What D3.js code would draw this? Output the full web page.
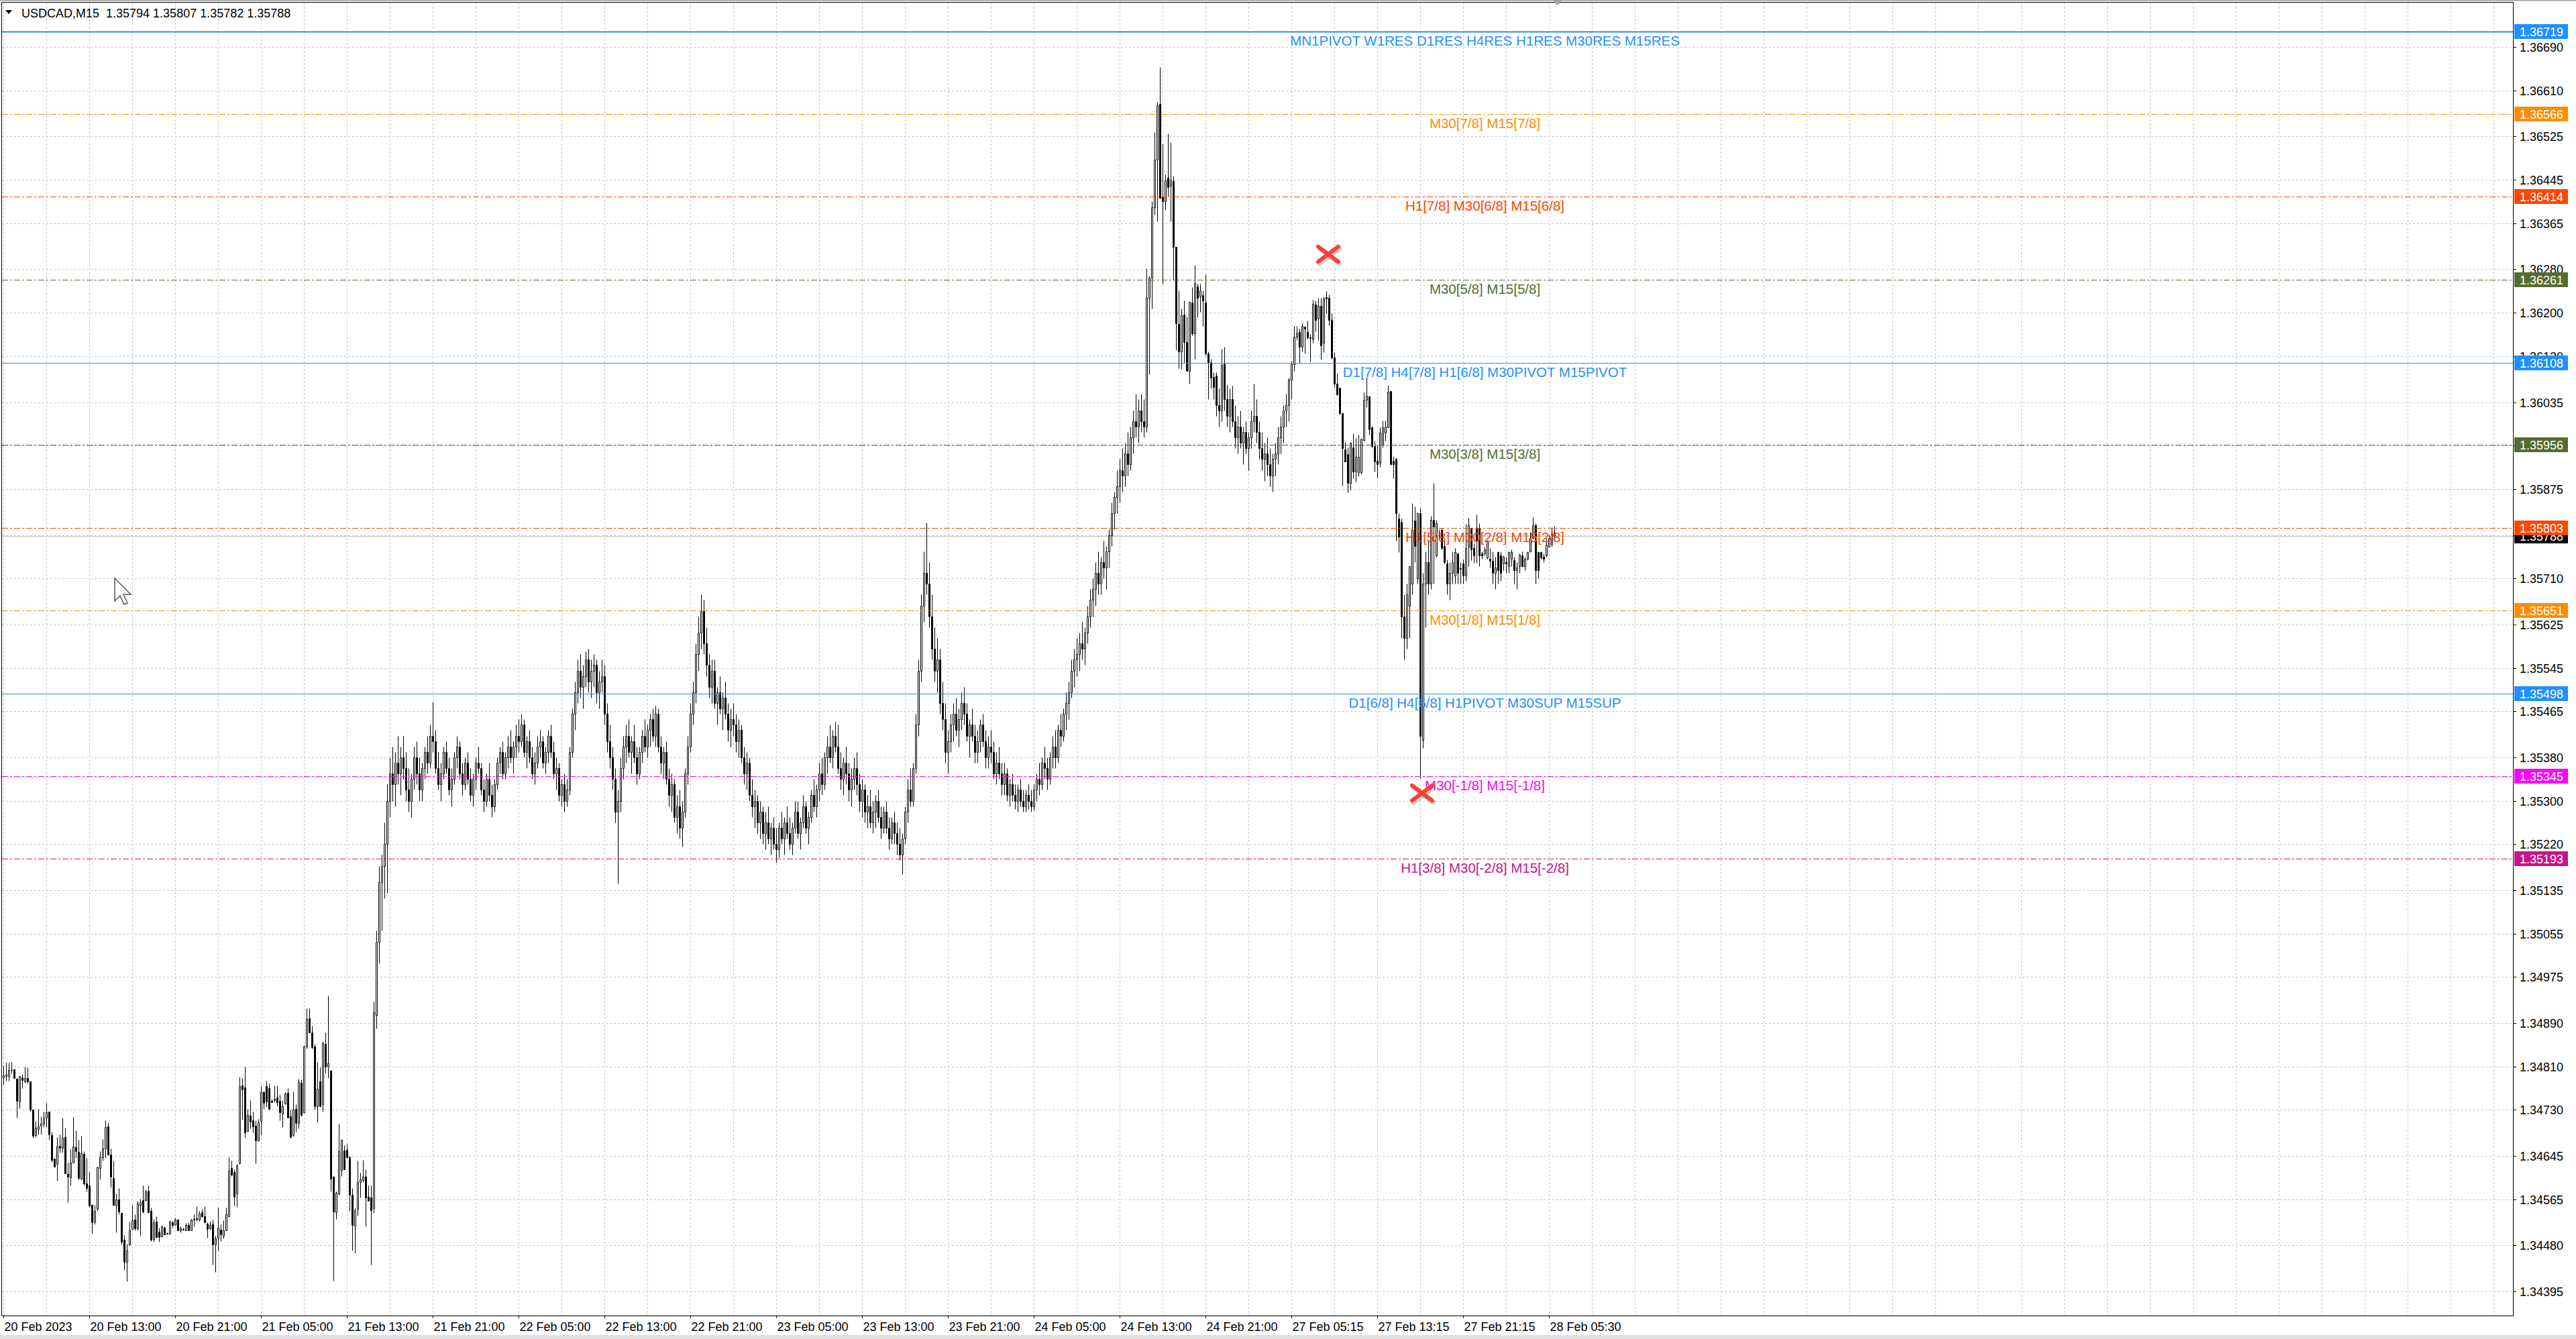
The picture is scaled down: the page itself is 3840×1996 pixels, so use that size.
<!DOCTYPE html>
<html><head><meta charset="utf-8">
<script src="https://cdn.jsdelivr.net/npm/d3@7"></script>
<style>html,body{margin:0;padding:0;background:#fff;}svg{display:block;}</style>
</head><body>
<svg id="c" width="3840" height="1996"></svg>
<script>
// ---------------- DATA ----------------
const symbolName = "USDCAD,M15";
const lastQuote = [1.35794, 1.35807, 1.35782, 1.35788];
const bidPrice = 1.35788;

// M15 candles, [open, high, low, close], one array per trading day
const feb20 = [
[1.34790,1.34812,1.34776,1.34793],[1.34792,1.34817,1.34783,1.34794],[1.34792,1.34817,1.34783,1.34803],[1.34803,1.34818,1.34797,1.34803],
[1.34804,1.34806,1.34788,1.34788],[1.34787,1.34788,1.34715,1.34746],[1.34745,1.34792,1.34733,1.34792],[1.34790,1.34796,1.34770,1.34785],
[1.34782,1.34809,1.34780,1.34789],[1.34788,1.34808,1.34779,1.34782],[1.34782,1.34782,1.34727,1.34730],[1.34730,1.34730,1.34678,1.34682],
[1.34683,1.34709,1.34679,1.34697],[1.34694,1.34731,1.34685,1.34699],[1.34701,1.34718,1.34684,1.34704],[1.34704,1.34727,1.34698,1.34716],
[1.34716,1.34742,1.34698,1.34725],[1.34726,1.34726,1.34674,1.34684],[1.34683,1.34689,1.34634,1.34638],[1.34640,1.34640,1.34624,1.34625],
[1.34630,1.34679,1.34599,1.34662],[1.34663,1.34685,1.34651,1.34660],[1.34660,1.34716,1.34651,1.34678],[1.34679,1.34697,1.34612,1.34613],
[1.34612,1.34632,1.34559,1.34606],[1.34605,1.34657,1.34591,1.34632],[1.34633,1.34717,1.34631,1.34662],[1.34661,1.34692,1.34641,1.34653],
[1.34652,1.34674,1.34601,1.34604],[1.34603,1.34682,1.34601,1.34650],[1.34648,1.34653,1.34591,1.34594],[1.34594,1.34641,1.34579,1.34585],
[1.34591,1.34615,1.34551,1.34553],[1.34554,1.34556,1.34501,1.34522],[1.34523,1.34554,1.34519,1.34544],[1.34547,1.34625,1.34544,1.34624],
[1.34623,1.34654,1.34602,1.34642],[1.34643,1.34676,1.34636,1.34658],[1.34658,1.34711,1.34641,1.34698],[1.34699,1.34707,1.34646,1.34647],
[1.34647,1.34658,1.34587,1.34606],[1.34604,1.34636,1.34553,1.34554],[1.34553,1.34576,1.34504,1.34564],[1.34564,1.34585,1.34537,1.34542],
[1.34540,1.34540,1.34481,1.34487],[1.34490,1.34499,1.34434,1.34449],[1.34449,1.34483,1.34414,1.34471],[1.34481,1.34524,1.34479,1.34508],
[1.34510,1.34555,1.34509,1.34526],[1.34527,1.34537,1.34507,1.34511],[1.34511,1.34562,1.34507,1.34557],[1.34553,1.34566,1.34498,1.34560],
[1.34563,1.34591,1.34540,1.34542],[1.34563,1.34583,1.34562,1.34579],[1.34581,1.34591,1.34540,1.34541],[1.34544,1.34550,1.34488,1.34490],
[1.34492,1.34529,1.34486,1.34522],[1.34523,1.34533,1.34494,1.34495],[1.34505,1.34513,1.34486,1.34495],[1.34496,1.34516,1.34495,1.34515],
[1.34513,1.34515,1.34500,1.34500],[1.34502,1.34504,1.34500,1.34501],[1.34501,1.34526,1.34500,1.34524],[1.34522,1.34525,1.34513,1.34518],
[1.34518,1.34531,1.34517,1.34527],[1.34527,1.34529,1.34507,1.34507],[1.34507,1.34515,1.34504,1.34511],[1.34509,1.34513,1.34507,1.34510],
[1.34507,1.34521,1.34507,1.34518],[1.34518,1.34522,1.34507,1.34507],[1.34507,1.34529,1.34507,1.34527],[1.34527,1.34537,1.34515,1.34529],
[1.34527,1.34552,1.34525,1.34530],[1.34527,1.34544,1.34525,1.34538],[1.34541,1.34547,1.34531,1.34533],[1.34533,1.34552,1.34521,1.34522]];
const feb21 = [
[1.34520,1.34522,1.34494,1.34510],[1.34511,1.34525,1.34509,1.34518],[1.34519,1.34527,1.34445,1.34482],[1.34482,1.34498,1.34431,1.34493],
[1.34494,1.34549,1.34470,1.34513],[1.34509,1.34519,1.34488,1.34500],[1.34498,1.34526,1.34493,1.34507],[1.34507,1.34549,1.34507,1.34537],
[1.34533,1.34643,1.34533,1.34618],[1.34623,1.34636,1.34608,1.34610],[1.34615,1.34620,1.34553,1.34569],[1.34575,1.34630,1.34551,1.34628],
[1.34631,1.34791,1.34630,1.34774],[1.34775,1.34788,1.34712,1.34767],[1.34771,1.34809,1.34678,1.34688],[1.34691,1.34731,1.34690,1.34720],
[1.34719,1.34747,1.34696,1.34708],[1.34711,1.34727,1.34688,1.34699],[1.34701,1.34711,1.34631,1.34673],[1.34673,1.34713,1.34672,1.34707],
[1.34709,1.34773,1.34683,1.34762],[1.34763,1.34765,1.34731,1.34743],[1.34773,1.34784,1.34735,1.34745],[1.34770,1.34779,1.34730,1.34731],
[1.34746,1.34750,1.34744,1.34744],[1.34747,1.34775,1.34744,1.34750],[1.34752,1.34775,1.34736,1.34744],[1.34746,1.34758,1.34711,1.34725],
[1.34723,1.34748,1.34698,1.34737],[1.34741,1.34763,1.34740,1.34760],[1.34761,1.34770,1.34715,1.34716],[1.34718,1.34730,1.34678,1.34679],
[1.34683,1.34764,1.34681,1.34730],[1.34731,1.34740,1.34690,1.34706],[1.34706,1.34787,1.34696,1.34781],[1.34780,1.34786,1.34718,1.34720],
[1.34725,1.34849,1.34724,1.34846],[1.34846,1.34917,1.34843,1.34897],[1.34898,1.34917,1.34872,1.34872],[1.34872,1.34885,1.34843,1.34845],
[1.34846,1.34851,1.34730,1.34736],[1.34736,1.34818,1.34707,1.34768],[1.34782,1.34808,1.34735,1.34736],[1.34740,1.34856,1.34726,1.34853],
[1.34851,1.34872,1.34797,1.34810],[1.34810,1.34940,1.34788,1.34815],[1.34802,1.34803,1.34579,1.34603],[1.34606,1.34608,1.34415,1.34542],
[1.34541,1.34579,1.34529,1.34577],[1.34575,1.34704,1.34573,1.34653],[1.34619,1.34674,1.34608,1.34674],[1.34655,1.34665,1.34620,1.34620],
[1.34656,1.34667,1.34641,1.34642],[1.34643,1.34645,1.34544,1.34573],[1.34573,1.34586,1.34471,1.34518],[1.34516,1.34550,1.34465,1.34545],
[1.34547,1.34636,1.34535,1.34597],[1.34597,1.34614,1.34568,1.34601],[1.34600,1.34637,1.34597,1.34607],[1.34607,1.34620,1.34515,1.34568],
[1.34569,1.34591,1.34562,1.34562],[1.34568,1.34591,1.34445,1.34545],[1.34548,1.34930,1.34540,1.34910],[1.34905,1.35060,1.34880,1.35040],
[1.35040,1.35180,1.35000,1.35150],[1.35150,1.35200,1.35060,1.35180],[1.35180,1.35260,1.35120,1.35220],[1.35220,1.35330,1.35130,1.35300],
[1.35300,1.35380,1.35270,1.35350],[1.35350,1.35400,1.35300,1.35330],[1.35330,1.35390,1.35290,1.35370],[1.35370,1.35420,1.35330,1.35350],
[1.35350,1.35400,1.35310,1.35380],[1.35380,1.35420,1.35340,1.35360],[1.35360,1.35390,1.35300,1.35320],[1.35320,1.35360,1.35280,1.35300],
[1.35300,1.35350,1.35270,1.35340],[1.35340,1.35400,1.35320,1.35380],[1.35380,1.35410,1.35330,1.35350],[1.35350,1.35380,1.35300,1.35320],
[1.35320,1.35370,1.35300,1.35360],[1.35360,1.35400,1.35340,1.35390],[1.35390,1.35420,1.35350,1.35370],[1.35370,1.35440,1.35360,1.35420],
[1.35420,1.35483,1.35390,1.35410],[1.35410,1.35430,1.35350,1.35360],[1.35360,1.35390,1.35320,1.35330],[1.35330,1.35370,1.35300,1.35350],
[1.35350,1.35400,1.35340,1.35390],[1.35390,1.35410,1.35350,1.35360],[1.35360,1.35380,1.35310,1.35320],[1.35320,1.35360,1.35290,1.35340],
[1.35340,1.35390,1.35330,1.35380],[1.35380,1.35420,1.35360,1.35400],[1.35400,1.35410,1.35340,1.35350],[1.35350,1.35370,1.35310,1.35330]];
const feb22 = [
[1.35330,1.35380,1.35320,1.35370],[1.35370,1.35390,1.35330,1.35340],[1.35340,1.35360,1.35300,1.35310],[1.35310,1.35350,1.35290,1.35340],
[1.35340,1.35380,1.35320,1.35370],[1.35370,1.35400,1.35350,1.35360],[1.35360,1.35370,1.35310,1.35320],[1.35320,1.35340,1.35280,1.35300],
[1.35300,1.35350,1.35290,1.35340],[1.35340,1.35370,1.35300,1.35310],[1.35310,1.35330,1.35270,1.35290],[1.35290,1.35340,1.35280,1.35330],
[1.35330,1.35380,1.35320,1.35370],[1.35370,1.35400,1.35350,1.35390],[1.35390,1.35410,1.35340,1.35350],[1.35350,1.35390,1.35340,1.35380],
[1.35380,1.35420,1.35360,1.35400],[1.35400,1.35430,1.35370,1.35380],[1.35380,1.35410,1.35350,1.35400],[1.35400,1.35440,1.35380,1.35420],
[1.35420,1.35450,1.35390,1.35410],[1.35410,1.35460,1.35400,1.35440],[1.35440,1.35450,1.35380,1.35390],[1.35390,1.35420,1.35360,1.35410],
[1.35410,1.35430,1.35370,1.35380],[1.35380,1.35400,1.35340,1.35350],[1.35350,1.35390,1.35330,1.35370],[1.35370,1.35420,1.35360,1.35400],
[1.35400,1.35430,1.35380,1.35410],[1.35410,1.35420,1.35360,1.35370],[1.35370,1.35400,1.35350,1.35390],[1.35390,1.35430,1.35370,1.35420],
[1.35420,1.35440,1.35380,1.35390],[1.35390,1.35410,1.35340,1.35350],[1.35350,1.35380,1.35320,1.35360],[1.35360,1.35370,1.35300,1.35310],
[1.35310,1.35340,1.35290,1.35330],[1.35330,1.35350,1.35280,1.35300],[1.35300,1.35340,1.35290,1.35320],[1.35320,1.35400,1.35310,1.35390],
[1.35390,1.35470,1.35380,1.35460],[1.35460,1.35520,1.35430,1.35500],[1.35500,1.35560,1.35480,1.35540],[1.35540,1.35570,1.35490,1.35510],
[1.35510,1.35550,1.35470,1.35530],[1.35530,1.35575,1.35510,1.35560],[1.35560,1.35580,1.35500,1.35520],[1.35520,1.35560,1.35490,1.35540],
[1.35540,1.35570,1.35510,1.35550],[1.35550,1.35560,1.35480,1.35500],[1.35500,1.35540,1.35470,1.35520],[1.35520,1.35560,1.35500,1.35530],
[1.35530,1.35550,1.35440,1.35460],[1.35460,1.35480,1.35390,1.35410],[1.35410,1.35440,1.35360,1.35380],[1.35380,1.35400,1.35320,1.35340],
[1.35340,1.35360,1.35260,1.35280],[1.35280,1.35320,1.35147,1.35300],[1.35300,1.35380,1.35280,1.35360],[1.35360,1.35420,1.35340,1.35400],
[1.35400,1.35440,1.35370,1.35420],[1.35420,1.35450,1.35380,1.35390],[1.35390,1.35420,1.35350,1.35410],[1.35410,1.35440,1.35370,1.35380],
[1.35380,1.35400,1.35330,1.35350],[1.35350,1.35400,1.35340,1.35390],[1.35390,1.35430,1.35370,1.35420],[1.35420,1.35450,1.35390,1.35400],
[1.35400,1.35440,1.35380,1.35430],[1.35430,1.35460,1.35400,1.35450],[1.35450,1.35470,1.35410,1.35420],[1.35420,1.35475,1.35400,1.35460],
[1.35460,1.35470,1.35390,1.35400],[1.35400,1.35420,1.35350,1.35370],[1.35370,1.35400,1.35340,1.35390],[1.35390,1.35410,1.35330,1.35340],
[1.35340,1.35360,1.35290,1.35310],[1.35310,1.35350,1.35280,1.35330],[1.35330,1.35340,1.35260,1.35270],[1.35270,1.35310,1.35240,1.35290],
[1.35290,1.35320,1.35230,1.35250],[1.35250,1.35300,1.35215,1.35280],[1.35280,1.35360,1.35270,1.35350],[1.35350,1.35420,1.35330,1.35400],
[1.35400,1.35480,1.35390,1.35460],[1.35460,1.35520,1.35440,1.35500],[1.35500,1.35590,1.35480,1.35570],[1.35570,1.35640,1.35540,1.35610],
[1.35610,1.35680,1.35580,1.35650],[1.35650,1.35670,1.35570,1.35590],[1.35590,1.35620,1.35530,1.35550],[1.35550,1.35570,1.35490,1.35510],
[1.35510,1.35560,1.35480,1.35540],[1.35540,1.35560,1.35470,1.35480],[1.35480,1.35510,1.35440,1.35500],[1.35500,1.35530,1.35460,1.35470]];
const feb23 = [
[1.35470,1.35500,1.35430,1.35490],[1.35490,1.35520,1.35450,1.35460],[1.35460,1.35480,1.35410,1.35430],[1.35430,1.35470,1.35400,1.35450],
[1.35450,1.35480,1.35420,1.35440],[1.35440,1.35460,1.35390,1.35410],[1.35410,1.35450,1.35380,1.35430],[1.35430,1.35440,1.35370,1.35380],
[1.35380,1.35400,1.35330,1.35350],[1.35350,1.35390,1.35320,1.35370],[1.35370,1.35380,1.35300,1.35310],[1.35310,1.35340,1.35270,1.35290],
[1.35290,1.35320,1.35250,1.35300],[1.35300,1.35310,1.35240,1.35260],[1.35260,1.35300,1.35230,1.35280],[1.35280,1.35290,1.35220,1.35240],
[1.35240,1.35280,1.35210,1.35260],[1.35260,1.35290,1.35220,1.35230],[1.35230,1.35260,1.35200,1.35250],[1.35250,1.35270,1.35210,1.35220],
[1.35220,1.35250,1.35185,1.35210],[1.35210,1.35260,1.35195,1.35250],[1.35250,1.35280,1.35220,1.35230],[1.35230,1.35270,1.35200,1.35260],
[1.35260,1.35290,1.35230,1.35240],[1.35240,1.35270,1.35210,1.35220],[1.35220,1.35260,1.35200,1.35250],[1.35250,1.35300,1.35240,1.35280],
[1.35280,1.35300,1.35230,1.35240],[1.35240,1.35270,1.35210,1.35260],[1.35260,1.35310,1.35250,1.35290],[1.35290,1.35300,1.35240,1.35250],
[1.35250,1.35280,1.35220,1.35270],[1.35270,1.35320,1.35260,1.35310],[1.35310,1.35340,1.35280,1.35290],[1.35290,1.35330,1.35270,1.35320],
[1.35320,1.35370,1.35300,1.35350],[1.35350,1.35380,1.35310,1.35330],[1.35330,1.35390,1.35320,1.35380],[1.35380,1.35420,1.35350,1.35400],
[1.35400,1.35440,1.35370,1.35380],[1.35380,1.35430,1.35360,1.35420],[1.35420,1.35445,1.35390,1.35400],[1.35400,1.35440,1.35350,1.35360],
[1.35360,1.35390,1.35320,1.35340],[1.35340,1.35380,1.35310,1.35370],[1.35370,1.35400,1.35330,1.35350],[1.35350,1.35370,1.35300,1.35320],
[1.35320,1.35360,1.35290,1.35340],[1.35340,1.35380,1.35320,1.35360],[1.35360,1.35390,1.35310,1.35330],[1.35330,1.35350,1.35280,1.35300],
[1.35300,1.35340,1.35270,1.35320],[1.35320,1.35330,1.35260,1.35280],[1.35280,1.35310,1.35250,1.35290],[1.35290,1.35320,1.35250,1.35260],
[1.35260,1.35300,1.35240,1.35280],[1.35280,1.35310,1.35250,1.35300],[1.35300,1.35320,1.35260,1.35270],[1.35270,1.35290,1.35230,1.35250],
[1.35250,1.35290,1.35240,1.35280],[1.35280,1.35300,1.35240,1.35250],[1.35250,1.35270,1.35210,1.35230],[1.35230,1.35270,1.35220,1.35260],
[1.35260,1.35280,1.35220,1.35240],[1.35240,1.35260,1.35200,1.35220],[1.35220,1.35250,1.35190,1.35200],[1.35200,1.35240,1.35165,1.35230],
[1.35230,1.35290,1.35220,1.35280],[1.35280,1.35340,1.35260,1.35320],[1.35320,1.35360,1.35290,1.35300],[1.35300,1.35370,1.35290,1.35360],
[1.35360,1.35460,1.35350,1.35440],[1.35440,1.35560,1.35420,1.35540],[1.35540,1.35680,1.35520,1.35660],[1.35660,1.35760,1.35630,1.35720],
[1.35720,1.35813,1.35680,1.35700],[1.35700,1.35740,1.35620,1.35640],[1.35640,1.35680,1.35560,1.35580],[1.35580,1.35620,1.35520,1.35540],
[1.35540,1.35600,1.35500,1.35560],[1.35560,1.35580,1.35460,1.35480],[1.35480,1.35520,1.35430,1.35450],[1.35450,1.35480,1.35370,1.35390],
[1.35390,1.35430,1.35350,1.35410],[1.35410,1.35460,1.35390,1.35440],[1.35440,1.35480,1.35410,1.35460],[1.35460,1.35490,1.35420,1.35430],
[1.35430,1.35470,1.35400,1.35450],[1.35450,1.35500,1.35430,1.35480],[1.35480,1.35510,1.35440,1.35460],[1.35460,1.35480,1.35410,1.35420],
[1.35420,1.35450,1.35380,1.35440],[1.35440,1.35470,1.35410,1.35420],[1.35420,1.35440,1.35370,1.35390],[1.35390,1.35430,1.35370,1.35410]];
const feb24 = [
[1.35410,1.35450,1.35390,1.35440],[1.35440,1.35460,1.35400,1.35410],[1.35410,1.35430,1.35360,1.35380],[1.35380,1.35420,1.35360,1.35400],
[1.35400,1.35430,1.35370,1.35390],[1.35390,1.35410,1.35340,1.35350],[1.35350,1.35390,1.35330,1.35370],[1.35370,1.35400,1.35340,1.35350],
[1.35350,1.35370,1.35310,1.35330],[1.35330,1.35370,1.35310,1.35350],[1.35350,1.35360,1.35300,1.35310],[1.35310,1.35340,1.35290,1.35330],
[1.35330,1.35350,1.35300,1.35310],[1.35310,1.35330,1.35285,1.35300],[1.35300,1.35330,1.35280,1.35320],[1.35320,1.35340,1.35290,1.35300],
[1.35300,1.35320,1.35280,1.35290],[1.35290,1.35320,1.35280,1.35310],[1.35310,1.35330,1.35285,1.35300],[1.35300,1.35320,1.35280,1.35290],
[1.35290,1.35330,1.35282,1.35320],[1.35320,1.35350,1.35300,1.35340],[1.35340,1.35370,1.35310,1.35330],[1.35330,1.35380,1.35320,1.35370],
[1.35370,1.35400,1.35340,1.35360],[1.35360,1.35380,1.35320,1.35340],[1.35340,1.35390,1.35330,1.35380],[1.35380,1.35420,1.35360,1.35400],
[1.35400,1.35430,1.35360,1.35380],[1.35380,1.35440,1.35370,1.35430],[1.35430,1.35460,1.35400,1.35420],[1.35420,1.35470,1.35410,1.35460],
[1.35460,1.35500,1.35430,1.35480],[1.35480,1.35520,1.35450,1.35500],[1.35500,1.35560,1.35490,1.35540],[1.35540,1.35580,1.35510,1.35560],
[1.35560,1.35600,1.35530,1.35570],[1.35570,1.35610,1.35540,1.35590],[1.35590,1.35630,1.35560,1.35580],[1.35580,1.35620,1.35550,1.35610],
[1.35610,1.35660,1.35590,1.35640],[1.35640,1.35690,1.35620,1.35670],[1.35670,1.35710,1.35640,1.35690],[1.35690,1.35740,1.35660,1.35720],
[1.35720,1.35760,1.35680,1.35700],[1.35700,1.35750,1.35680,1.35740],[1.35740,1.35780,1.35710,1.35730],[1.35730,1.35770,1.35690,1.35760],
[1.35760,1.35800,1.35730,1.35790],[1.35790,1.35850,1.35770,1.35830],[1.35830,1.35870,1.35800,1.35860],[1.35860,1.35910,1.35830,1.35880],
[1.35880,1.35930,1.35850,1.35910],[1.35910,1.35950,1.35870,1.35900],[1.35900,1.35960,1.35880,1.35940],[1.35940,1.35980,1.35900,1.35920],
[1.35920,1.35990,1.35910,1.35970],[1.35970,1.36020,1.35940,1.36000],[1.36000,1.36050,1.35970,1.35990],[1.35990,1.36040,1.35960,1.36020],
[1.36020,1.36050,1.35980,1.36000],[1.36000,1.36040,1.35970,1.35990],[1.35990,1.36282,1.35980,1.36228],[1.36228,1.36268,1.36086,1.36265],
[1.36265,1.36406,1.36208,1.36395],[1.36395,1.36533,1.36381,1.36482],[1.36482,1.36589,1.36368,1.36582],[1.36585,1.36653,1.36410,1.36412],
[1.36414,1.36512,1.36254,1.36406],[1.36406,1.36455,1.36389,1.36444],[1.36449,1.36531,1.36414,1.36431],[1.36434,1.36514,1.36368,1.36444],
[1.36443,1.36452,1.36261,1.36321],[1.36321,1.36321,1.36131,1.36181],[1.36179,1.36241,1.36098,1.36129],[1.36129,1.36208,1.36096,1.36195],
[1.36197,1.36222,1.36109,1.36146],[1.36146,1.36193,1.36092,1.36092],[1.36092,1.36220,1.36069,1.36220],[1.36219,1.36247,1.36158,1.36162],
[1.36162,1.36288,1.36115,1.36255],[1.36249,1.36253,1.36191,1.36228],[1.36230,1.36253,1.36202,1.36241],[1.36232,1.36241,1.36175,1.36222],
[1.36219,1.36271,1.36121,1.36125],[1.36125,1.36129,1.36040,1.36109],[1.36109,1.36115,1.36060,1.36080],[1.36082,1.36090,1.36040,1.36063],
[1.36084,1.36090,1.36010,1.36030],[1.36030,1.36060,1.35990,1.36020],[1.36020,1.36133,1.36000,1.36104],[1.36106,1.36137,1.36020,1.36040],
[1.36040,1.36068,1.35990,1.36010],[1.36010,1.36060,1.35980,1.36040],[1.36040,1.36065,1.35990,1.36000]];
const feb27 = [
[1.36000,1.36030,1.35950,1.35970],[1.35970,1.36010,1.35940,1.35990],[1.35990,1.36020,1.35950,1.35960],[1.35960,1.35990,1.35920,1.35980],
[1.35980,1.36000,1.35940,1.35950],[1.35950,1.35980,1.35910,1.35970],[1.35970,1.36020,1.35950,1.36000],[1.36000,1.36069,1.35980,1.36010],
[1.36010,1.36040,1.35960,1.35980],[1.35980,1.36000,1.35930,1.35950],[1.35950,1.35980,1.35910,1.35930],[1.35930,1.35960,1.35890,1.35940],
[1.35940,1.35970,1.35900,1.35920],[1.35920,1.35950,1.35880,1.35900],[1.35900,1.35940,1.35870,1.35930],[1.35930,1.35960,1.35900,1.35940],
[1.35940,1.35990,1.35920,1.35970],[1.35970,1.36010,1.35940,1.35990],[1.35990,1.36030,1.35960,1.36020],[1.36020,1.36050,1.35990,1.36030],
[1.36030,1.36080,1.36000,1.36076],[1.36076,1.36111,1.36040,1.36105],[1.36105,1.36175,1.36093,1.36156],[1.36156,1.36175,1.36150,1.36163],
[1.36164,1.36171,1.36107,1.36137],[1.36137,1.36181,1.36129,1.36175],[1.36174,1.36175,1.36125,1.36171],[1.36164,1.36185,1.36152,1.36154],
[1.36155,1.36160,1.36110,1.36153],[1.36152,1.36224,1.36144,1.36216],[1.36215,1.36222,1.36166,1.36187],[1.36189,1.36228,1.36150,1.36212],
[1.36212,1.36228,1.36113,1.36140],[1.36144,1.36230,1.36127,1.36226],[1.36229,1.36240,1.36199,1.36226],[1.36227,1.36234,1.36177,1.36187],
[1.36187,1.36199,1.36115,1.36117],[1.36117,1.36127,1.36063,1.36069],[1.36069,1.36089,1.36048,1.36049],[1.36061,1.36061,1.36012,1.36014],
[1.36015,1.36016,1.35881,1.35950],[1.35948,1.35962,1.35925,1.35925],[1.35939,1.35952,1.35869,1.35886],[1.35886,1.35962,1.35873,1.35960],
[1.35951,1.35977,1.35894,1.35907],[1.35907,1.35969,1.35888,1.35934],[1.35906,1.35975,1.35898,1.35934],[1.35906,1.35968,1.35902,1.35968],
[1.35965,1.36053,1.35964,1.36039],[1.36039,1.36081,1.36026,1.36047],[1.36045,1.36047,1.35975,1.35985],[1.35989,1.35991,1.35952,1.35954],
[1.35954,1.35964,1.35907,1.35925],[1.35927,1.35956,1.35896,1.35921],[1.35923,1.35989,1.35915,1.35979],[1.35956,1.36001,1.35952,1.35988],
[1.35979,1.36001,1.35964,1.35990],[1.35989,1.36067,1.35988,1.36054],[1.36055,1.36055,1.35919,1.35920],[1.35927,1.35935,1.35894,1.35920],
[1.35931,1.35933,1.35780,1.35830],[1.35820,1.35830,1.35758,1.35787],[1.35814,1.35820,1.35600,1.35640],[1.35640,1.35680,1.35560,1.35600],
[1.35600,1.35700,1.35580,1.35680],[1.35660,1.35733,1.35600,1.35733],[1.35700,1.35849,1.35680,1.35799],[1.35816,1.35843,1.35740,1.35770],
[1.35710,1.35832,1.35700,1.35830],[1.35830,1.35840,1.35341,1.35420],[1.35412,1.35720,1.35397,1.35700],[1.35700,1.35760,1.35620,1.35740],
[1.35740,1.35780,1.35680,1.35700],[1.35700,1.35825,1.35690,1.35818],[1.35818,1.35886,1.35700,1.35806],[1.35752,1.35818,1.35750,1.35812],
[1.35790,1.35800,1.35783,1.35789],[1.35799,1.35803,1.35764,1.35766],[1.35770,1.35783,1.35738,1.35740],[1.35737,1.35745,1.35680,1.35700],
[1.35700,1.35740,1.35670,1.35720],[1.35720,1.35760,1.35700,1.35740],[1.35715,1.35766,1.35700,1.35758],[1.35756,1.35756,1.35700,1.35720],
[1.35729,1.35740,1.35700,1.35728],[1.35737,1.35745,1.35700,1.35715],[1.35715,1.35810,1.35705,1.35766],[1.35768,1.35822,1.35733,1.35808],
[1.35803,1.35803,1.35744,1.35764],[1.35766,1.35775,1.35739,1.35752],[1.35803,1.35828,1.35739,1.35779],[1.35803,1.35812,1.35733,1.35752],
[1.35756,1.35760,1.35746,1.35752],[1.35756,1.35768,1.35752,1.35763],[1.35748,1.35781,1.35746,1.35779],[1.35746,1.35766,1.35730,1.35742]];
const feb28 = [
[1.35742,1.35760,1.35700,1.35720],[1.35720,1.35750,1.35690,1.35730],[1.35758,1.35760,1.35700,1.35725],[1.35752,1.35760,1.35705,1.35720],
[1.35737,1.35752,1.35725,1.35750],[1.35740,1.35750,1.35720,1.35737],[1.35733,1.35760,1.35720,1.35758],[1.35746,1.35764,1.35733,1.35758],
[1.35744,1.35750,1.35700,1.35725],[1.35725,1.35740,1.35690,1.35730],[1.35733,1.35756,1.35720,1.35754],[1.35752,1.35760,1.35731,1.35733],
[1.35733,1.35750,1.35725,1.35746],[1.35746,1.35760,1.35744,1.35758],[1.35760,1.35795,1.35758,1.35785],[1.35785,1.35823,1.35783,1.35808],
[1.35808,1.35812,1.35700,1.35725],[1.35758,1.35760,1.35710,1.35725],[1.35758,1.35760,1.35746,1.35748],[1.35750,1.35756,1.35740,1.35746],
[1.35752,1.35785,1.35750,1.35772],[1.35768,1.35791,1.35768,1.35785],[1.35773,1.35804,1.35768,1.35793],[1.35794,1.35807,1.35782,1.35788]];

const priceTicks = [1.36690,1.36610,1.36525,1.36445,1.36365,1.36280,1.36200,1.36120,1.36035,1.35955,
  1.35875,1.35790,1.35710,1.35625,1.35545,1.35465,1.35380,1.35300,1.35220,1.35135,1.35055,1.34975,
  1.34890,1.34810,1.34730,1.34645,1.34565,1.34480,1.34395];
const timeLabels = ["20 Feb 2023","20 Feb 13:00","20 Feb 21:00","21 Feb 05:00","21 Feb 13:00","21 Feb 21:00",
  "22 Feb 05:00","22 Feb 13:00","22 Feb 21:00","23 Feb 05:00","23 Feb 13:00","23 Feb 21:00","24 Feb 05:00",
  "24 Feb 13:00","24 Feb 21:00","27 Feb 05:15","27 Feb 13:15","27 Feb 21:15","28 Feb 05:30"];
const timeLabelBars = [0,32,64,96,128,160,192,224,256,288,320,352,384,416,448,480,512,544,576];

const levelPrices = [1.36719,1.36566,1.36414,1.36261,1.36108,1.35956,1.35803,1.35651,1.35498,1.35345,1.35193];
const levelTexts = ["MN1PIVOT W1RES D1RES H4RES H1RES M30RES M15RES","M30[7/8] M15[7/8]","H1[7/8] M30[6/8] M15[6/8]",
  "M30[5/8] M15[5/8]","D1[7/8] H4[7/8] H1[6/8] M30PIVOT M15PIVOT","M30[3/8] M15[3/8]","H1[5/8] M30[2/8] M15[2/8]",
  "M30[1/8] M15[1/8]","D1[6/8] H4[6/8] H1PIVOT M30SUP M15SUP","M30[-1/8] M15[-1/8]","H1[3/8] M30[-2/8] M15[-2/8]"];
const levelColors = ["#1E90FF","#FF8C00","#FF4500","#556B2F","#1E90FF","#556B2F","#FF4500","#FF8C00","#1E90FF","#FF00FF","#C71585"];
const levelSolid = [true,false,false,false,true,false,false,false,true,false,false];

const markerBars = [493.6, 528.6];
const markerPrices = [1.36308, 1.35314];

// ---------------- LAYOUT ----------------
const candles = [].concat(feb20, feb21, feb22, feb23, feb24, feb27, feb28);
const W = 3840, H = 1996;
const plot = {left: 3, top: 4, right: 3746, bottom: 1961};
const svg = d3.select("#c");
const FONT = "'Liberation Sans', Arial, sans-serif";

const x = d3.scaleLinear().domain([0, 1]).range([5.5, 9.5]);
const y = d3.scaleLinear().domain([1.36719, 1.35193]).range([46.7, 1280.0]);
const py = v => Math.round(y(v)) + 0.5;

svg.append("rect").attr("width", W).attr("height", H).attr("fill", "#fff");
svg.append("defs").append("clipPath").attr("id", "clip")
  .append("rect").attr("x", plot.left).attr("y", plot.top)
  .attr("width", plot.right - plot.left).attr("height", plot.bottom - plot.top);

const g = svg.append("g").attr("clip-path", "url(#clip)");

// grid
const gridColor = "#c4c4c4";
g.append("g").selectAll("line").data(priceTicks).join("line")
  .attr("x1", plot.left).attr("x2", plot.right)
  .attr("y1", d => py(d)).attr("y2", d => py(d))
  .attr("stroke", gridColor).attr("stroke-dasharray", "3,3");
const vGrid = d3.range(0, 940, 16);
g.append("g").selectAll("line").data(vGrid).join("line")
  .attr("x1", d => x(d)).attr("x2", d => x(d))
  .attr("y1", plot.top).attr("y2", plot.bottom)
  .attr("stroke", gridColor).attr("stroke-dasharray", "3,3");

// bid line
g.append("line").attr("x1", plot.left).attr("x2", plot.right)
  .attr("y1", py(bidPrice)).attr("y2", py(bidPrice)).attr("stroke", "#c0c0c0");

// candles
const cg = g.append("g");
cg.selectAll("line.w").data(candles).join("line").attr("class", "w")
  .attr("x1", (d, i) => x(i)).attr("x2", (d, i) => x(i))
  .attr("y1", d => py(d[1])).attr("y2", d => py(d[2]))
  .attr("stroke", "#000");
cg.selectAll("path.b").data(candles).join("path").attr("class", "b")
  .attr("d", (d, i) => {
    const t = py(Math.max(d[0], d[3])), b = py(Math.min(d[0], d[3]));
    const l = x(i) - 1, r = x(i) + 1;
    return `M${l},${t}H${r}V${b}H${l}Z`;
  })
  .attr("fill", d => d[3] >= d[0] ? "#fff" : "#000")
  .attr("stroke", "#000");

// level lines
g.append("g").selectAll("line").data(levelPrices).join("line")
  .attr("x1", plot.left).attr("x2", plot.right)
  .attr("y1", d => py(d)).attr("y2", d => py(d))
  .attr("stroke", (d, i) => levelColors[i])
  .attr("stroke-width", (d, i) => i === 0 ? 2 : 1)
  .attr("stroke-dasharray", (d, i) => levelSolid[i] ? null : "9,3,3,3");
const labelBar = 552;
g.append("g").selectAll("text").data(levelPrices).join("text")
  .attr("x", x(labelBar)).attr("y", d => py(d) + 13)
  .attr("text-anchor", "middle").attr("dominant-baseline", "central")
  .attr("font-family", FONT).attr("font-size", 20.5)
  .attr("fill", (d, i) => levelColors[i])
  .text((d, i) => levelTexts[i]);

// markers (red crosses)
const mk = g.append("g");
markerBars.forEach((b, i) => {
  const cx = x(b), cy = y(markerPrices[i]), s = 15;
  const grp = mk.append("g");
  [[-1, -1, 1, 1], [-1, 1, 1, -1]].forEach(([a, b2, c, d]) => {
    grp.append("line").attr("x1", cx + a * s + 2).attr("y1", cy + b2 * s * 0.75 + 3).attr("x2", cx + c * s + 2).attr("y2", cy + d * s * 0.75 + 3)
      .attr("stroke", "rgba(0,0,0,0.18)").attr("stroke-width", 7).attr("stroke-linecap", "round");
  });
  [[-1, -1, 1, 1], [-1, 1, 1, -1]].forEach(([a, b2, c, d]) => {
    grp.append("line").attr("x1", cx + a * s).attr("y1", cy + b2 * s * 0.75).attr("x2", cx + c * s).attr("y2", cy + d * s * 0.75)
      .attr("stroke", "#F5403C").attr("stroke-width", 6).attr("stroke-linecap", "round");
  });
});

// frame
svg.append("line").attr("x1", 0).attr("x2", W).attr("y1", 0.5).attr("y2", 0.5).attr("stroke", "#a0a0a0").attr("stroke-width", 2);
svg.append("rect").attr("x", plot.left - 0.5).attr("y", plot.top - 0.5)
  .attr("width", plot.right - plot.left + 1).attr("height", plot.bottom - plot.top + 1)
  .attr("fill", "none").attr("stroke", "#000");
svg.append("line").attr("x1", 0).attr("x2", W).attr("y1", 1993).attr("y2", 1993).attr("stroke", "#e0e0e0").attr("stroke-width", 6);

// shift marker
svg.append("path").attr("d", `M${x(579) - 6},1 L${x(579) + 6},1 L${x(579)},8 Z`).attr("fill", "#a0a0a0");

// right axis ticks + labels (labels hidden where a price tag sits on top)
const tagPrices = [bidPrice].concat(levelPrices);
const ax = svg.append("g");
ax.selectAll("line").data(priceTicks).join("line")
  .attr("x1", plot.right).attr("x2", plot.right + 5)
  .attr("y1", d => py(d)).attr("y2", d => py(d)).attr("stroke", "#000");
ax.selectAll("text").data(priceTicks.filter(p => !tagPrices.some(t => Math.abs(y(t) - y(p)) < 5))).join("text")
  .attr("x", 3756).attr("y", d => py(d)).attr("dominant-baseline", "central")
  .attr("font-family", FONT).attr("font-size", 18).attr("fill", "#000")
  .text(d => d.toFixed(5));

// price tags
const tagData = [{p: bidPrice, c: "#000"}].concat(levelPrices.map((p, i) => ({p, c: levelColors[i]})));
const tg = svg.append("g");
tagData.forEach(t => {
  const cy = Math.round(y(t.p));
  tg.append("rect").attr("x", 3748).attr("y", cy - 11).attr("width", 80).attr("height", 22).attr("fill", t.c);
  tg.append("text").attr("x", 3756).attr("y", cy + 0.5).attr("dominant-baseline", "central")
    .attr("font-family", FONT).attr("font-size", 18).attr("fill", "#fff").text(t.p.toFixed(5));
});

// time axis
const tx = svg.append("g");
tx.selectAll("line").data(timeLabelBars).join("line")
  .attr("x1", d => x(d)).attr("x2", d => x(d)).attr("y1", plot.bottom).attr("y2", plot.bottom + 4)
  .attr("stroke", "#000");
tx.selectAll("text").data(timeLabels).join("text")
  .attr("x", (d, i) => x(timeLabelBars[i]) + 1).attr("y", 1984)
  .attr("font-family", FONT).attr("font-size", 18).attr("fill", "#000").text(d => d);

// title
svg.append("path").attr("d", "M8,15 L18,15 L13,21 Z").attr("fill", "#000");
svg.append("text").attr("x", 32).attr("y", 26).attr("font-family", FONT).attr("font-size", 18).attr("fill", "#000")
  .attr("xml:space", "preserve")
  .text(symbolName + "  " + lastQuote.map(v => v.toFixed(5)).join(" "));

// mouse cursor
svg.append("path")
  .attr("d", "M0,0 L0,34 L8,26 L14,39 L19,37 L13,24 L24,24 Z")
  .attr("transform", "translate(171,862)")
  .attr("fill", "#fff").attr("stroke", "#555").attr("stroke-width", 1.5);
</script>
</body></html>
